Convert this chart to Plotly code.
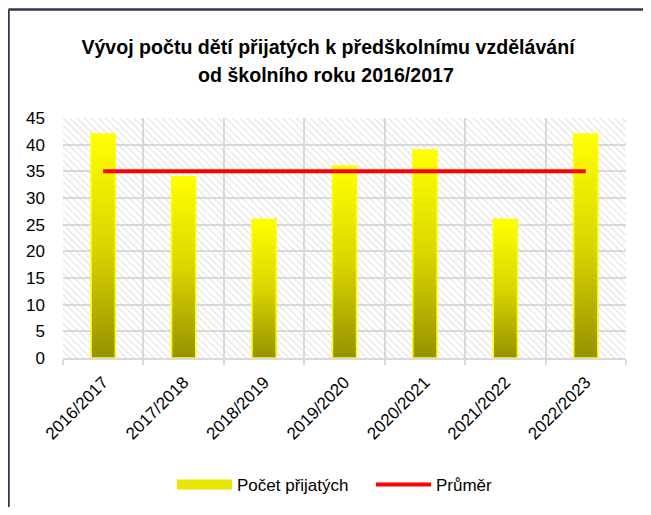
import plotly.graph_objects as go

# ---- data ----
CATEGORIES = ["2016/2017", "2017/2018", "2018/2019", "2019/2020",
              "2020/2021", "2021/2022", "2022/2023"]
PRIJATI = [42, 34, 26, 36, 39, 26, 42]
TITLE_LINES = ["Vývoj počtu dětí přijatých k předškolnímu vzdělávání",
               "od školního roku 2016/2017"]
NAME_BAR = "Počet přijatých"
NAME_LINE = "Průměr"
Y_MAX = 45
Y_STEP = 5

AVERAGE = sum(PRIJATI) / len(PRIJATI)

# ---- layout geometry (page px; the page body has an 8px margin) ----
OFF = 8
PAGE_W, PAGE_H = 651, 515
W, H = PAGE_W - 2 * OFF, PAGE_H - 2 * OFF
PLOT_L, PLOT_R, PLOT_T, PLOT_B = 63, 626, 118, 358   # page px
L = PLOT_L - OFF
R = OFF + W - PLOT_R
T = PLOT_T - OFF
B = OFF + H - PLOT_B
FONT = "Liberation Sans, Arial, sans-serif"


def px_x(px):
    return (px - PLOT_L) / (PLOT_R - PLOT_L)


def px_y(py):
    return (PLOT_B - py) / (PLOT_B - PLOT_T)


def grad_color(f):
    stops = [(0.0, (150, 145, 0)), (0.5, (218, 214, 0)), (1.0, (255, 255, 0))]
    for (f0, c0), (f1, c1) in zip(stops[:-1], stops[1:]):
        if f <= f1:
            t = (f - f0) / (f1 - f0)
            c = [round(a + (b - a) * t) for a, b in zip(c0, c1)]
            return "rgb({},{},{})".format(*c)
    return "rgb(255,255,0)"


fig = go.Figure()

# hatched plot background
fig.add_trace(go.Bar(
    x=[CATEGORIES[len(CATEGORIES) // 2]], y=[Y_MAX], base=[0],
    width=[len(CATEGORIES)],
    marker=dict(color="rgba(0,0,0,0)", line=dict(width=0),
                pattern=dict(shape="\\", fgcolor="#d2d2d2",
                             bgcolor="rgba(0,0,0,0)", size=5, solidity=0.3)),
    showlegend=False, hoverinfo="skip"))

# gradient bars (drawn as nested bars, tallest first)
N = 40
BAR_W = 0.3
for k in range(N, 0, -1):
    fig.add_trace(go.Bar(
        x=CATEGORIES, y=[v * k / N for v in PRIJATI], base=[0] * len(PRIJATI),
        width=BAR_W,
        marker=dict(color=grad_color((k - 0.5) / N), line=dict(width=0)),
        showlegend=False, hoverinfo="skip"))

# bar outline
fig.add_trace(go.Bar(
    x=CATEGORIES, y=PRIJATI, base=[0] * len(PRIJATI), width=BAR_W,
    marker=dict(color="rgba(0,0,0,0)", line=dict(color="#ffff00", width=1.5)),
    name=NAME_BAR, showlegend=False))

# legend entry for bars
fig.add_trace(go.Scatter(
    x=[None], y=[None], mode="lines", name=NAME_BAR,
    line=dict(color="#e8e600", width=12)))

# average line
fig.add_trace(go.Scatter(
    x=CATEGORIES, y=[AVERAGE] * len(CATEGORIES), mode="lines", name=NAME_LINE,
    line=dict(color="#ff0000", width=4)))

fig.update_layout(
    width=W, height=H,
    margin=dict(l=L, r=R, t=T, b=B, autoexpand=False),
    paper_bgcolor="white", plot_bgcolor="white",
    barmode="overlay",
    font=dict(family=FONT, size=16, color="black"),
    title=dict(text="<b>" + TITLE_LINES[0] + "</b>",
               x=(328 - OFF) / W, xanchor="center", xref="container",
               y=1 - (47 - OFF) / H, yanchor="middle", yref="container",
               font=dict(family=FONT, size=19.6, color="black")),
    annotations=[dict(
        text="<b>" + TITLE_LINES[1] + "</b>", showarrow=False,
        xref="paper", yref="paper", x=px_x(326), y=px_y(75),
        xanchor="center", yanchor="middle",
        font=dict(family=FONT, size=19.6, color="black"))],
    xaxis=dict(type="category", categoryorder="array",
               categoryarray=CATEGORIES, range=[-0.5, len(CATEGORIES) - 0.5],
               tickson="boundaries", showgrid=True,
               gridcolor="#d9d9d9", gridwidth=1.5, showline=True,
               linecolor="#d9d9d9", linewidth=1.5, ticks="outside",
               ticklen=5, tickcolor="#d9d9d9", tickwidth=1.5,
               tickangle=-45, tickfont=dict(size=17), ticklabelstandoff=6),
    yaxis=dict(range=[0, Y_MAX], dtick=Y_STEP, tick0=0, showgrid=True,
               gridcolor="#d9d9d9", gridwidth=1.5, showline=False,
               zeroline=False, ticks="", tickfont=dict(size=17),
               ticklabelstandoff=17),
    legend=dict(orientation="h", x=px_x(172), xanchor="left",
                y=px_y(485), yanchor="middle", itemwidth=55,
                entrywidth=129,
                font=dict(size=17), bgcolor="rgba(0,0,0,0)"),
    shapes=[
        dict(type="line", xref="paper", yref="paper",
             x0=px_x(8.5), y0=px_y(9.5), x1=px_x(700), y1=px_y(9.5),
             line=dict(color="#3f3151", width=2.5)),
        dict(type="line", xref="paper", yref="paper",
             x0=px_x(8.5), y0=px_y(9.5), x1=px_x(8.5), y1=px_y(600),
             line=dict(color="#3f3151", width=2.5)),
    ],
)

fig.write_html("out.html")
